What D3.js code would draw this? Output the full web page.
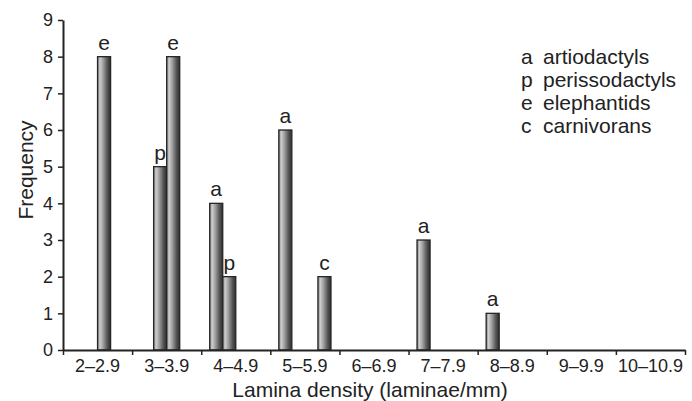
<!DOCTYPE html>
<html><head><meta charset="utf-8">
<script src="https://cdn.jsdelivr.net/npm/d3@7"></script>
<style>
body{margin:0;background:#fff;}
text{font-family:"Liberation Sans",Arial,sans-serif;fill:#222;}
</style></head>
<body><svg id="c" width="692" height="401"></svg>
<script>
const categories = ["2–2.9","3–3.9","4–4.9","5–5.9","6–6.9","7–7.9","8–8.9","9–9.9","10–10.9"];
const seriesKeys = ["a","p","e","c"];
const seriesNames = ["artiodactyls","perissodactyls","elephantids","carnivorans"];
const aVals = [0,0,4,6,0,3,1,0,0];
const pVals = [0,5,2,0,0,0,0,0,0];
const eVals = [8,8,0,0,0,0,0,0,0];
const cVals = [0,0,0,2,0,0,0,0,0];
const yTicks = [0,1,2,3,4,5,6,7,8,9];

const valuesByKey = {a:aVals,p:pVals,e:eVals,c:cVals};
const svg = d3.select("#c");
const L=63,R=685,T=20,B=350;

const x = d3.scaleBand().domain(categories).range([L,R]).padding(0);
const xs = d3.scaleBand().domain(seriesKeys).range([0,x.bandwidth()]).paddingInner(0).paddingOuter(0.65);
const y = d3.scaleLinear().domain([0,9]).range([B,T]);

const defs = svg.append("defs");
const g = defs.append("linearGradient").attr("id","cyl").attr("x1","0").attr("x2","1").attr("y1","0").attr("y2","0");
[[0,"#7a7a7a"],[0.18,"#cfcfcf"],[0.42,"#a0a0a0"],[0.75,"#555"],[1,"#2e2e2e"]].forEach(s=>g.append("stop").attr("offset",s[0]).attr("stop-color",s[1]));

const bars=[];
seriesKeys.forEach(k=>valuesByKey[k].forEach((v,i)=>{ if(v>0) bars.push({k,v,cat:categories[i]}); }));

svg.selectAll("rect.bar").data(bars).enter().append("rect").attr("class","bar")
  .attr("x",d=>x(d.cat)+xs(d.k)).attr("width",xs.bandwidth())
  .attr("y",d=>y(d.v)).attr("height",d=>B-y(d.v))
  .attr("fill","url(#cyl)").attr("stroke","#262626").attr("stroke-width",1.3);

svg.selectAll("text.lab").data(bars).enter().append("text").attr("class","lab")
  .attr("x",d=>x(d.cat)+xs(d.k)+xs.bandwidth()/2).attr("y",d=>y(d.v)-7)
  .attr("text-anchor","middle").style("font-size","21px").text(d=>d.k);

// y axis
const ya = svg.append("g").attr("transform",`translate(${L},0)`)
  .call(d3.axisLeft(y).tickValues(yTicks).tickFormat(d3.format("d")).tickSize(5).tickSizeOuter(0).tickPadding(5));
ya.select(".domain").attr("stroke","#222").attr("stroke-width",2);
ya.selectAll(".tick line").attr("stroke","#222").attr("stroke-width",1.5);
ya.selectAll(".tick text").style("font-size","18px").attr("fill","#222");

// x axis ticks at boundaries
const xb = d3.scaleLinear().domain([0,categories.length]).range([L,R]);
const xa = svg.append("g").attr("transform",`translate(0,${B})`)
  .call(d3.axisBottom(xb).tickValues(d3.range(categories.length+1)).tickFormat("").tickSize(5).tickSizeOuter(0));
xa.select(".domain").attr("stroke","#222").attr("stroke-width",2);
xa.selectAll(".tick line").attr("stroke","#222").attr("stroke-width",1.5);

const xl = svg.append("g").attr("transform",`translate(0,${B})`)
  .call(d3.axisBottom(x).tickSize(0).tickPadding(9));
xl.select(".domain").remove();
xl.selectAll(".tick text").style("font-size","18px").attr("fill","#222");

svg.append("text").attr("x",(L+R)/2-4).attr("y",397).attr("text-anchor","middle").style("font-size","21px").text("Lamina density (laminae/mm)");
svg.append("text").attr("transform",`translate(33,170) rotate(-90)`).attr("text-anchor","middle").style("font-size","21px").text("Frequency");

// legend
const lg = svg.append("g");
seriesKeys.forEach((k,i)=>{
  lg.append("text").attr("x",521).attr("y",64+i*23).style("font-size","21px").text(k);
  lg.append("text").attr("x",543).attr("y",64+i*23).style("font-size","21px").text(seriesNames[i]);
});
</script></body></html>
